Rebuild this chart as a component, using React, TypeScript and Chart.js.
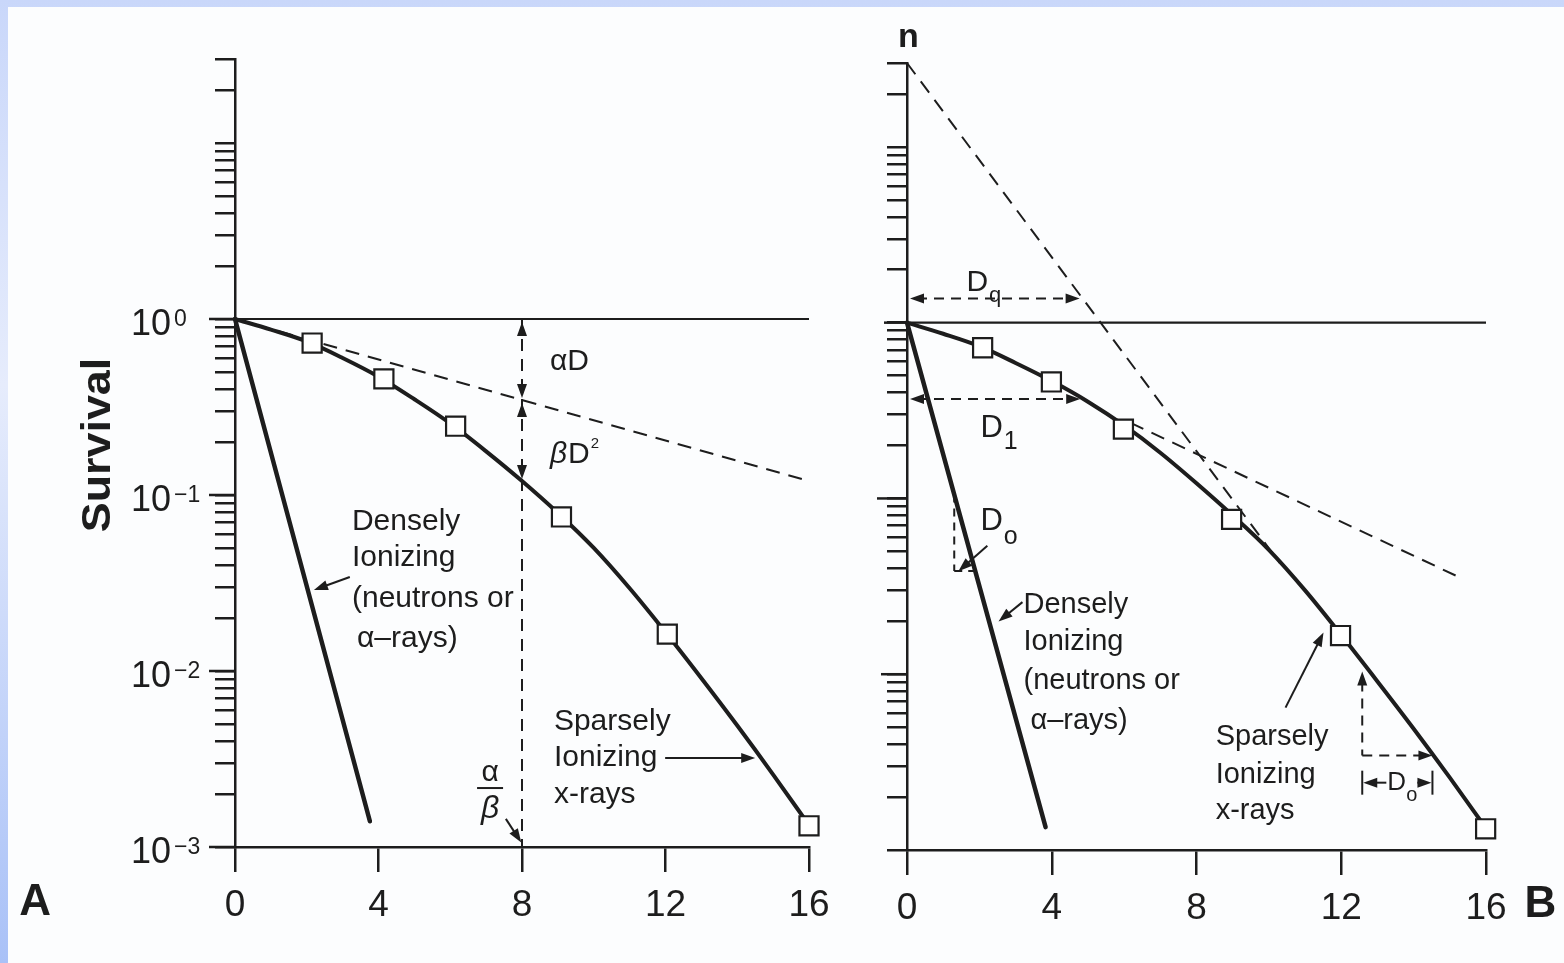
import React, { useEffect, useRef } from 'react';
import { Chart, registerables } from 'chart.js';

Chart.register(...registerables);

const FONT = "'Liberation Sans', Arial, Helvetica, sans-serif";
const INK = '#1d1d1d';

// ---------- axes ----------
const X_TICKS = [0, 4, 8, 12, 16];
const X_MIN = 0;
const X_MAX = 16;
const Y_MANTISSAS = [1, 2, 3, 4, 5, 6, 7, 8, 9];
const Y_DECADES = [-3, -2, -1, 0];
const Y_EXTRA_TICKS = [10, 20, 30];
const Y_LABEL_DECADES = [0, -1, -2, -3];
const Y_MIN = 0.001;
const Y_MAX = 30;

// ---------- panel A data ----------
const DOSE = [0, 1, 2, 3, 4, 5, 6, 7, 8, 9, 10, 11, 12, 13, 14, 15, 16];
const XRAY_SURV_A = [1.0, 0.87, 0.745, 0.6, 0.47, 0.35, 0.255, 0.177, 0.12, 0.079, 0.05, 0.0295, 0.0166, 0.0091, 0.0049, 0.00258, 0.00133];
const XRAY_PT_DOSE_A = [2.15, 4.15, 6.15, 9.1, 12.05, 16.0];
const XRAY_PT_SURV_A = [0.73, 0.457, 0.246, 0.075, 0.0162, 0.00132];
const DENSE_DOSE_A = [0, 3.76];
const DENSE_SURV_A = [1, 0.0014];
const ALPHA_DOSE_A = [0, 16];
const ALPHA_SURV_A = [1, 0.12];
const UNITY_DOSE = [0, 16];
const UNITY_SURV = [1, 1];
const ALPHA_BETA_DOSE = [8, 8];
const ALPHA_BETA_SURV = [1, 0.001];

// ---------- panel B data ----------
const XRAY_SURV_B = [1.0, 0.865, 0.735, 0.59, 0.465, 0.355, 0.26, 0.182, 0.122, 0.08, 0.051, 0.03, 0.0167, 0.0091, 0.0049, 0.00258, 0.00133];
const XRAY_PT_DOSE_B = [2.09, 3.99, 5.98, 8.97, 11.98, 15.99];
const XRAY_PT_SURV_B = [0.72, 0.46, 0.248, 0.076, 0.0166, 0.00132];
const DENSE_DOSE_B = [0, 3.83];
const DENSE_SURV_B = [1, 0.00135];
const EXTRAP_DOSE_B = [0, 10.3];
const EXTRAP_SURV_B = [30, 0.043];
const TANGENT_DOSE_B = [6.18, 15.38];
const TANGENT_SURV_B = [0.269, 0.0347];
const DQ_LEVEL = 0.137; // log10 survival where the Dq arrow sits
const D0_DENSE_TOP = -0.978; // log10 survival where the dense D0 step starts
const D0_XRAY = { dose: 12.58, top: -1.985, bottom: -2.463, end: 14.52, bracket: -2.617 };
const E_DECADE = Math.log10(Math.E);

type Pt = { x: number; y: number };
const zip = (xs: number[], ys: number[]): Pt[] => xs.map((x, i) => ({ x, y: ys[i] }));

const yTickValues = (): number[] => {
  const out: number[] = [];
  for (const e of Y_DECADES) for (const m of Y_MANTISSAS) out.push(Number((m * Math.pow(10, e)).toPrecision(3)));
  return out.concat(Y_EXTRA_TICKS);
};

// log-space interpolation helpers (curve lookups for annotation arrows)
function decAt(xs: number[], ys: number[], d: number): number {
  for (let i = 0; i < xs.length - 1; i++) {
    if (d >= xs[i] && d <= xs[i + 1]) {
      const t = (d - xs[i]) / (xs[i + 1] - xs[i]);
      return Math.log10(ys[i]) + t * (Math.log10(ys[i + 1]) - Math.log10(ys[i]));
    }
  }
  return Math.log10(ys[ys.length - 1]);
}
function doseAt(xs: number[], ys: number[], dec: number): number {
  for (let i = 0; i < xs.length - 1; i++) {
    const a = Math.log10(ys[i]);
    const b = Math.log10(ys[i + 1]);
    if (dec <= a && dec >= b) return xs[i] + ((a - dec) / (a - b)) * (xs[i + 1] - xs[i]);
  }
  return xs[xs.length - 1];
}

// ---------- drawing helpers ----------
function seg(ctx: any, x1: number, y1: number, x2: number, y2: number, w = 2, dash: number[] = []) {
  ctx.save();
  ctx.lineWidth = w;
  ctx.setLineDash(dash);
  ctx.beginPath();
  ctx.moveTo(x1, y1);
  ctx.lineTo(x2, y2);
  ctx.stroke();
  ctx.restore();
}
function head(ctx: any, fx: number, fy: number, tx: number, ty: number, len = 14, half = 5) {
  const a = Math.atan2(ty - fy, tx - fx);
  const c = Math.cos(a);
  const s = Math.sin(a);
  ctx.beginPath();
  ctx.moveTo(tx, ty);
  ctx.lineTo(tx - len * c + half * s, ty - len * s - half * c);
  ctx.lineTo(tx - len * c - half * s, ty - len * s + half * c);
  ctx.closePath();
  ctx.fill();
}
function arrow(ctx: any, fx: number, fy: number, tx: number, ty: number, w = 2, dash: number[] = []) {
  const a = Math.atan2(ty - fy, tx - fx);
  seg(ctx, fx, fy, tx - 8 * Math.cos(a), ty - 8 * Math.sin(a), w, dash);
  head(ctx, fx, fy, tx, ty);
}
function label(ctx: any, s: string, x: number, y: number, size: number, o: any = {}) {
  ctx.font = `${o.style || 'normal'} ${o.weight || 'normal'} ${size}px ${FONT}`;
  ctx.textAlign = o.align || 'left';
  ctx.textBaseline = o.base || 'middle';
  ctx.fillText(s, x, y);
  return ctx.measureText(s).width;
}
function subLabel(ctx: any, main: string, sub: string, x: number, y: number, size: number, subSize: number, dy: number) {
  const w = label(ctx, main, x, y, size);
  label(ctx, sub, x + w + 1, y + dy, subSize);
}

function mapper(chart: any) {
  const xs = chart.scales.x;
  const ys = chart.scales.y;
  return {
    X: (d: number) => xs.getPixelForValue(d),
    Y: (dec: number) => ys.getPixelForValue(Math.pow(10, dec)),
  };
}

// ---------- panel A annotations ----------
function drawA(chart: any) {
  const ctx = chart.ctx;
  const { X, Y } = mapper(chart);
  const ax = chart.chartArea.left;
  ctx.save();
  ctx.fillStyle = INK;
  ctx.strokeStyle = INK;

  // longer decade ticks and 10^n labels
  for (const dec of Y_LABEL_DECADES) {
    const y = Y(dec);
    seg(ctx, ax - 26, y, ax, y, 2.5);
    label(ctx, '10', ax - 64, y + 16, 36, { base: 'alphabetic', align: 'right' });
    label(ctx, dec === 0 ? '0' : '\u2212' + String(-dec), ax - 61, y + 7, 23, { base: 'alphabetic' });
  }

  // axis title
  ctx.save();
  ctx.translate(X(-3.79), Y(-0.716));
  ctx.rotate(-Math.PI / 2);
  ctx.scale(1.12, 1);
  label(ctx, 'Survival', 0, 0, 40, { weight: 'bold', align: 'center' });
  ctx.restore();

  label(ctx, 'A', X(-5.57), Y(-3.32), 44, { weight: 'bold', align: 'center' });

  // alpha D / beta D^2
  label(ctx, '\u03b1D', X(8.78), Y(-0.244), 30);
  const wb = label(ctx, '\u03b2', X(8.78), Y(-0.773), 30, { style: 'italic' });
  const wd = label(ctx, 'D', X(8.78) + wb + 1, Y(-0.773), 30);
  label(ctx, '2', X(8.78) + wb + wd + 2, Y(-0.773) - 11, 15);

  // arrows on the alpha/beta dashed line
  const xv = X(ALPHA_BETA_DOSE[0]);
  const aDec = decAt(ALPHA_DOSE_A, ALPHA_SURV_A, ALPHA_BETA_DOSE[0]);
  const cDec = decAt(DOSE, XRAY_SURV_A, ALPHA_BETA_DOSE[0]);
  head(ctx, xv, Y(0) + 30, xv, Y(0) + 3);
  head(ctx, xv, Y(aDec) - 30, xv, Y(aDec) - 2);
  head(ctx, xv, Y(aDec) + 30, xv, Y(aDec) + 3);
  head(ctx, xv, Y(cDec) - 30, xv, Y(cDec) - 2);

  // densely ionizing label
  label(ctx, 'Densely', X(3.26), Y(-1.153), 30);
  label(ctx, 'Ionizing', X(3.26), Y(-1.358), 30);
  label(ctx, '(neutrons or', X(3.26), Y(-1.591), 30);
  label(ctx, '\u03b1\u2013rays)', X(3.4), Y(-1.818), 30);
  arrow(ctx, X(3.2), Y(-1.466), X(2.2), Y(-1.54), 2);

  // sparsely ionizing label
  label(ctx, 'Sparsely', X(8.89), Y(-2.29), 30);
  label(ctx, 'Ionizing', X(8.89), Y(-2.494), 30);
  label(ctx, 'x-rays', X(8.89), Y(-2.705), 30);
  arrow(ctx, X(11.99), Y(-2.494), X(14.5), Y(-2.494), 2);

  // alpha / beta fraction
  const fx = X(7.11);
  label(ctx, '\u03b1', fx, Y(-2.58), 30, { align: 'center' });
  seg(ctx, fx - 13, Y(-2.665), fx + 13, Y(-2.665), 2);
  label(ctx, '\u03b2', fx, Y(-2.785), 32, { align: 'center', style: 'italic' });
  arrow(ctx, X(7.55), Y(-2.84), X(7.98), Y(-2.975), 2);

  ctx.restore();
}

// ---------- panel B annotations ----------
function drawB(chart: any) {
  const ctx = chart.ctx;
  const { X, Y } = mapper(chart);
  const ax = chart.chartArea.left;
  ctx.save();
  ctx.fillStyle = INK;
  ctx.strokeStyle = INK;
  const DASH = [10, 7];

  seg(ctx, ax - 23, Y(0), ax, Y(0), 2.5);
  seg(ctx, ax - 30, Y(-1), ax, Y(-1), 2.5);
  seg(ctx, ax - 26, Y(-2), ax, Y(-2), 2.5);

  label(ctx, 'n', X(0.04), Y(1.62), 34, { weight: 'bold', align: 'center' });
  label(ctx, 'B', X(17.5), Y(-3.31), 44, { weight: 'bold', align: 'center' });

  // Dq
  const dq = doseAt(EXTRAP_DOSE_B, EXTRAP_SURV_B, DQ_LEVEL);
  const yq = Y(DQ_LEVEL);
  seg(ctx, ax + 10, yq, X(dq) - 10, yq, 2, DASH);
  head(ctx, ax + 20, yq, ax + 3, yq);
  head(ctx, X(dq) - 20, yq, X(dq) - 3, yq);
  subLabel(ctx, 'D', 'q', X(1.643), Y(0.228), 30, 22, 13);

  // D1
  const d1Level = -E_DECADE;
  const d1 = doseAt(DOSE, XRAY_SURV_B, d1Level);
  const y1 = Y(d1Level);
  seg(ctx, ax + 10, y1, X(d1) - 10, y1, 2, DASH);
  head(ctx, ax + 20, y1, ax + 3, y1);
  head(ctx, X(d1) - 20, y1, X(d1) - 3, y1);
  subLabel(ctx, 'D', '1', X(2.03), Y(-0.603), 31, 25, 13);

  // D0 on the densely ionizing line
  const ds = doseAt(DENSE_DOSE_B, DENSE_SURV_B, D0_DENSE_TOP);
  const bottom = D0_DENSE_TOP - E_DECADE;
  const de = doseAt(DENSE_DOSE_B, DENSE_SURV_B, bottom);
  seg(ctx, X(ds), Y(D0_DENSE_TOP), X(ds), Y(bottom), 2, [8, 6]);
  seg(ctx, X(ds), Y(bottom), X(de), Y(bottom), 2, [8, 6]);
  subLabel(ctx, 'D', 'o', X(2.03), Y(-1.132), 31, 25, 15);
  arrow(ctx, X(2.22), Y(-1.269), X(1.42), Y(-1.414), 2);

  // densely ionizing label
  label(ctx, 'Densely', X(3.22), Y(-1.604), 29);
  label(ctx, 'Ionizing', X(3.22), Y(-1.815), 29);
  label(ctx, '(neutrons or', X(3.22), Y(-2.036), 29);
  label(ctx, '\u03b1\u2013rays)', X(3.41), Y(-2.264), 29);
  arrow(ctx, X(3.19), Y(-1.59), X(2.53), Y(-1.7), 2);

  // sparsely ionizing label
  label(ctx, 'Sparsely', X(8.53), Y(-2.356), 29);
  label(ctx, 'Ionizing', X(8.53), Y(-2.571), 29);
  label(ctx, 'x-rays', X(8.53), Y(-2.78), 29);
  arrow(ctx, X(10.46), Y(-2.19), X(11.51), Y(-1.763), 2);

  // D0 on the x-ray curve
  const xd = X(D0_XRAY.dose);
  const xe = X(D0_XRAY.end);
  seg(ctx, xd, Y(D0_XRAY.top) + 10, xd, Y(D0_XRAY.bottom), 2, DASH);
  head(ctx, xd, Y(D0_XRAY.top) + 20, xd, Y(D0_XRAY.top));
  seg(ctx, xd, Y(D0_XRAY.bottom), xe - 10, Y(D0_XRAY.bottom), 2, DASH);
  head(ctx, xe - 20, Y(D0_XRAY.bottom), xe, Y(D0_XRAY.bottom));
  const yb = Y(D0_XRAY.bracket);
  seg(ctx, xd, yb - 12, xd, yb + 12, 2);
  seg(ctx, xe, yb - 12, xe, yb + 12, 2);
  const cx = (xd + xe) / 2;
  label(ctx, 'D', cx - 10, yb, 26, { align: 'left' });
  label(ctx, 'o', cx + 9, yb + 13, 20, { align: 'left' });
  arrow(ctx, cx - 11, yb, xd + 1, yb, 2);
  arrow(ctx, cx + 20, yb, xe - 1, yb, 2);

  ctx.restore();
}

// ---------- chart config ----------
function scales(yWidth: number, xHeight: number) {
  return {
    x: {
      type: 'linear',
      min: X_MIN,
      max: X_MAX,
      afterBuildTicks: (s: any) => {
        s.ticks = X_TICKS.map((v) => ({ value: v }));
      },
      afterFit: (s: any) => {
        s.height = xHeight;
      },
      ticks: {
        color: INK,
        font: { family: FONT, size: 37 },
        padding: 12,
        maxRotation: 0,
        autoSkip: false,
        callback: (v: any) => String(v),
      },
      grid: { drawOnChartArea: false, drawTicks: true, tickLength: 25, color: INK, lineWidth: 2.5 },
      border: { display: true, color: INK, width: 2.5 },
    },
    y: {
      type: 'logarithmic',
      min: Y_MIN,
      max: Y_MAX,
      afterBuildTicks: (s: any) => {
        s.ticks = yTickValues().map((v) => ({ value: v }));
      },
      afterFit: (s: any) => {
        s.width = yWidth;
      },
      ticks: { display: false, autoSkip: false },
      grid: { drawOnChartArea: false, drawTicks: true, tickLength: 20, color: INK, lineWidth: 2.5 },
      border: { display: true, color: INK, width: 2.5 },
    },
  };
}

const solid = (data: Pt[], w: number, extra: any = {}) => ({
  data,
  borderColor: INK,
  borderWidth: w,
  pointRadius: 0,
  fill: false,
  clip: false,
  tension: 0,
  borderCapStyle: 'round',
  ...extra,
});
const markers = (data: Pt[]) => ({
  data,
  showLine: false,
  pointStyle: 'rect',
  pointRadius: 13.5,
  pointBackgroundColor: '#ffffff',
  pointBorderColor: INK,
  pointBorderWidth: 2.2,
  clip: false,
});

function options(pad: any, yWidth: number, xHeight: number) {
  return {
    responsive: false,
    animation: false,
    devicePixelRatio: 1,
    events: [],
    layout: { padding: pad },
    plugins: { legend: { display: false }, tooltip: { enabled: false } },
    scales: scales(yWidth, xHeight),
  };
}

function buildA(): any {
  return {
    type: 'line',
    data: {
      datasets: [
        markers(zip(XRAY_PT_DOSE_A, XRAY_PT_SURV_A)),
        solid(zip(DOSE, XRAY_SURV_A), 4, { cubicInterpolationMode: 'monotone' }),
        solid(zip(DENSE_DOSE_A, DENSE_SURV_A), 4.5),
        solid(zip(ALPHA_DOSE_A, ALPHA_SURV_A), 2, { borderDash: [14, 9], borderCapStyle: 'butt' }),
        solid(zip(UNITY_DOSE, UNITY_SURV), 2.2, { borderCapStyle: 'butt' }),
        solid(zip(ALPHA_BETA_DOSE, ALPHA_BETA_SURV), 2, { borderDash: [12, 8], borderCapStyle: 'butt' }),
      ],
    },
    options: options({ left: 0, right: 51, top: 59, bottom: 0 }, 235, 116),
    plugins: [{ id: 'annotateA', afterDraw: drawA }],
  };
}

function buildB(): any {
  return {
    type: 'line',
    data: {
      datasets: [
        markers(zip(XRAY_PT_DOSE_B, XRAY_PT_SURV_B)),
        solid(zip(DOSE, XRAY_SURV_B), 4, { cubicInterpolationMode: 'monotone' }),
        solid(zip(DENSE_DOSE_B, DENSE_SURV_B), 4.5),
        solid(zip(EXTRAP_DOSE_B, EXTRAP_SURV_B), 2, { borderDash: [14, 9], borderCapStyle: 'butt' }),
        solid(zip(TANGENT_DOSE_B, TANGENT_SURV_B), 2, { borderDash: [14, 9], borderCapStyle: 'butt' }),
        solid(zip(UNITY_DOSE, UNITY_SURV), 2.2, { borderCapStyle: 'butt' }),
      ],
    },
    options: options({ left: 0, right: 78, top: 63, bottom: 0 }, 47, 113),
    plugins: [{ id: 'annotateB', afterDraw: drawB }],
  };
}

function Panel({ left, width, build }: { left: number; width: number; build: () => any }) {
  const ref = useRef<HTMLCanvasElement | null>(null);
  useEffect(() => {
    const chart = new Chart(ref.current as HTMLCanvasElement, build());
    return () => chart.destroy();
  }, [build]);
  return (
    <canvas
      ref={ref}
      width={width}
      height={963}
      style={{ position: 'absolute', left, top: 0, width, height: 963, display: 'block' }}
    />
  );
}

export default function App() {
  useEffect(() => {
    document.body.style.margin = '0';
  }, []);
  return (
    <div
      style={{
        position: 'fixed',
        left: 0,
        top: 0,
        width: 1564,
        height: 963,
        overflow: 'hidden',
        background: 'linear-gradient(180deg, #c9d7fa 0%, #e6ecfc 40%, #a9c1f7 100%)',
      }}
    >
      <div style={{ position: 'absolute', left: 8, top: 7, right: 0, bottom: 0, background: '#fcfdfe' }} />
      <Panel left={0} width={860} build={buildA} />
      <Panel left={860} width={704} build={buildB} />
    </div>
  );
}
